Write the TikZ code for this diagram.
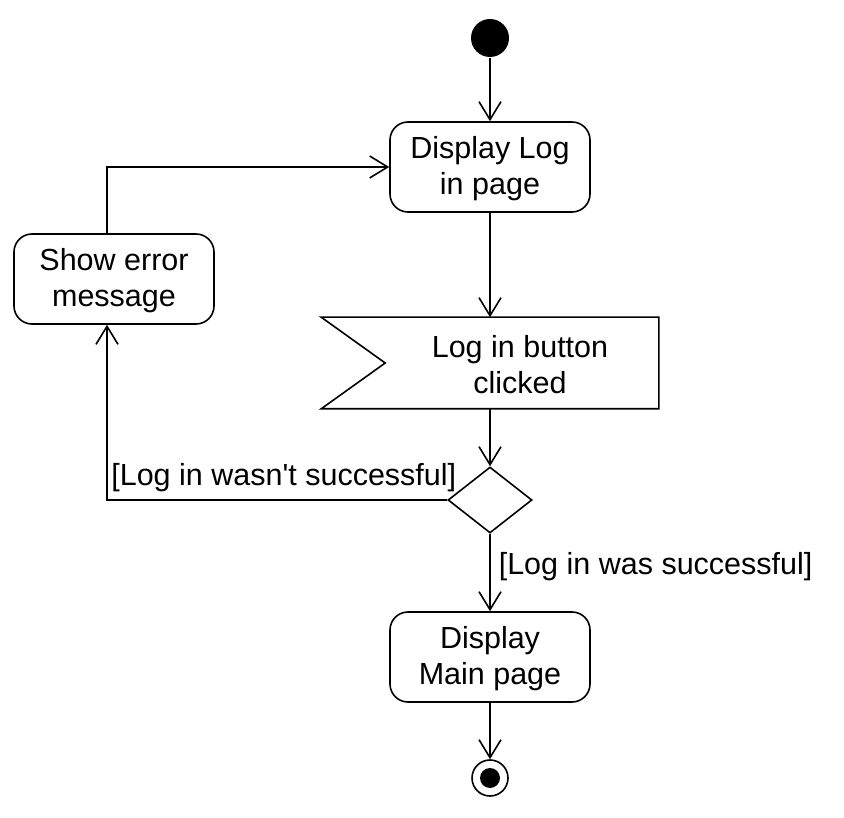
\documentclass[tikz,border=0pt]{standalone}
\usepackage{fontspec}
\setmainfont{Liberation Sans}[Ligatures=TeXOff]
\usetikzlibrary{shapes.geometric,arrows.meta,calc}
\newcommand\myupstrut{\rule{0pt}{26pt}}
\begin{document}
\begin{tikzpicture}[x=1pt,y=-1pt, line width=1.6pt,
  every node/.style={font=\fontsize{30.5}{36}\selectfont, inner sep=0pt},
  act/.style={draw, rounded corners=18pt, minimum width=200pt, minimum height=90pt, align=center},
  flow/.style={-{Straight Barb[length=18pt,width=22pt]}},
  guard/.style={}]
\useasboundingbox[fill=white] (0,0) rectangle (844,818);
\node[circle, fill, minimum size=38pt] (start) at (490,38) {};
\node[act] (disp) at (490,167) {\myupstrut Display Log\\in page};
\node[act] (err) at (114,279) {\myupstrut Show error\\message};
\node[minimum width=336pt, minimum height=90pt] (btn) at (490,363) {};
\draw (btn.north west) -- (btn.north east) -- (btn.south east) -- (btn.south west) -- ($(btn.west)+(64,0)$) -- cycle;
\node[align=center] (btntext) at (520,365) {Log in button\\clicked};
\node[diamond, draw, minimum width=84pt, minimum height=66pt] (dec) at (490,500) {};
\node[act] (main) at (490,657) {\myupstrut Display\\Main page};
\node[circle, draw, minimum size=36pt] (end) at (490,778) {};
\node[circle, fill, minimum size=20pt] (endin) at (490,778) {};
\draw[flow] (start) -- (disp);
\draw[flow] (disp) -- (btn);
\draw[flow] (btn) -- (dec);
\draw[flow] (dec) -- (main);
\draw[flow] (main) -- (end);
\draw[flow] (dec.west) -| ([xshift=-7pt]err.south);
\draw[flow] ([xshift=-7pt]err.north) |- (disp.west);
\node[guard, anchor=base east] (gfail) at (457,485) {[Log in wasn't successful]};
\node[guard, anchor=base west] (gok) at (498,574) {[Log in was successful]};
\end{tikzpicture}
\end{document}
